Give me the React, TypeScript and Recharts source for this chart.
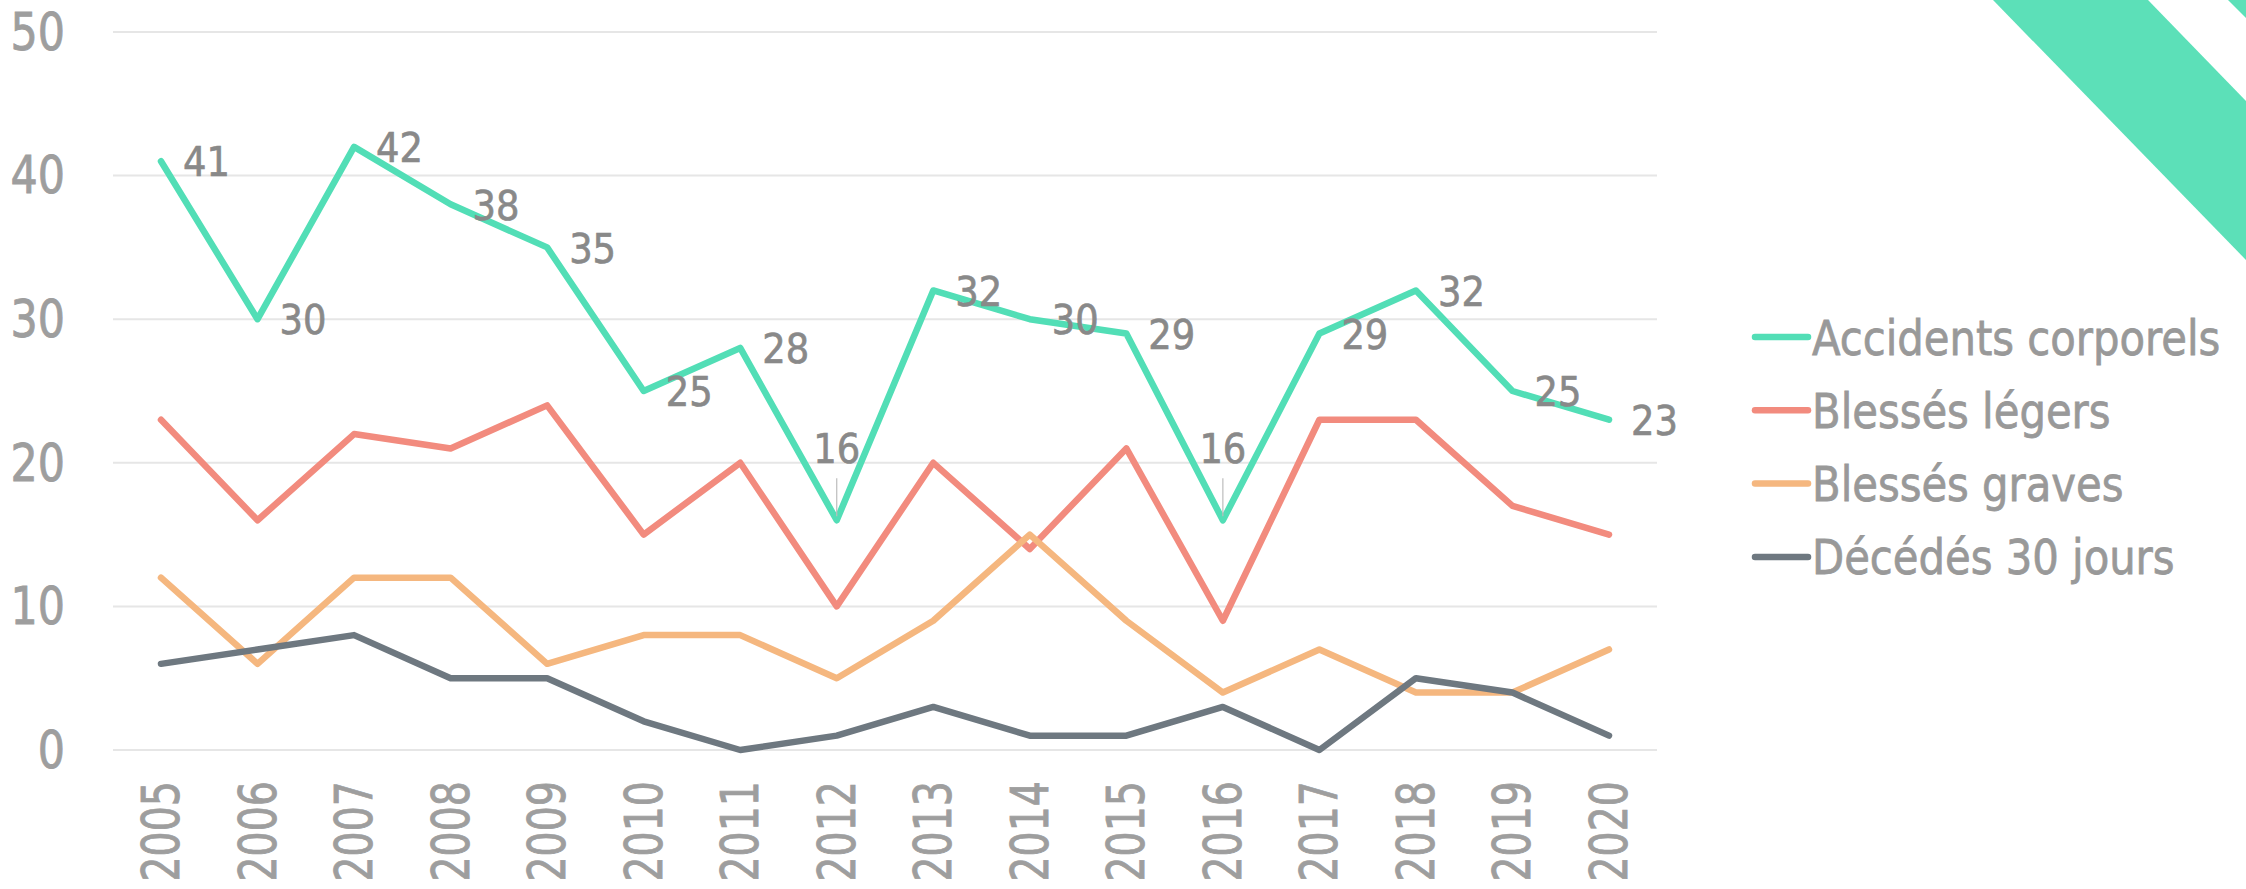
import React from 'react';
import { LineChart, Line, XAxis, YAxis, CartesianGrid, Legend, LabelList } from 'recharts';

const years = ['2005', '2006', '2007', '2008', '2009', '2010', '2011', '2012', '2013', '2014', '2015', '2016', '2017', '2018', '2019', '2020'];
const accidentsCorporels = [41, 30, 42, 38, 35, 25, 28, 16, 32, 30, 29, 16, 29, 32, 25, 23];
const blessesLegers = [23, 16, 22, 21, 24, 15, 20, 10, 20, 14, 21, 9, 23, 23, 17, 15];
const blessesGraves = [12, 6, 12, 12, 6, 8, 8, 5, 9, 15, 9, 4, 7, 4, 4, 7];
const decedes30Jours = [6, 7, 8, 5, 5, 2, 0, 1, 3, 1, 1, 3, 0, 5, 4, 1];
const yTicks = [0, 10, 20, 30, 40, 50];

const seriesNames = ['Accidents corporels', 'Blessés légers', 'Blessés graves', 'Décédés 30 jours'];

const data = years.map((year, i) => ({
  year,
  accidents: accidentsCorporels[i],
  legers: blessesLegers[i],
  graves: blessesGraves[i],
  decedes: decedes30Jours[i],
}));

const FONT = "'DejaVu Sans', Verdana, sans-serif";
const CALLOUT_INDEXES = [7, 11];
const TICK_COLOR = '#9E9E9E';
const LABEL_COLOR = '#898989';
const LINE_W = 6.5;

const XTick = (props: any) => {
  const { x, y, payload } = props;
  return (
    <g transform={`translate(${x},${y}) rotate(-90) scale(0.76,1)`}>
      <text x={0} y={0} textAnchor="end" dominantBaseline="central" fontFamily={FONT} fontSize={52}
        fill={TICK_COLOR} stroke={TICK_COLOR} strokeWidth={0.9}>
        {payload.value}
      </text>
    </g>
  );
};

const YTick = (props: any) => {
  const { x, y, payload } = props;
  return (
    <g transform={`translate(${x},${y}) scale(0.84,1)`}>
      <text x={0} y={0} textAnchor="end" dominantBaseline="central" fontFamily={FONT} fontSize={51}
        fill={TICK_COLOR} stroke={TICK_COLOR} strokeWidth={0.9}>
        {payload.value}
      </text>
    </g>
  );
};

const LabelText = ({ x, y, anchor, value }: any) => (
  <g transform={`translate(${x},${y}) scale(0.9,1)`}>
    <text x={0} y={0} textAnchor={anchor} dominantBaseline="central" fontFamily={FONT} fontSize={41}
      fill={LABEL_COLOR} stroke={LABEL_COLOR} strokeWidth={0.7}>
      {value}
    </text>
  </g>
);

const AccLabel = (props: any) => {
  const { x, y, value, index } = props;
  if (CALLOUT_INDEXES.includes(index)) {
    return (
      <g>
        <line x1={x} y1={y - 42} x2={x} y2={y - 4} stroke="#BDBDBD" strokeWidth={1.2} />
        <LabelText x={x} y={y - 71} anchor="middle" value={value} />
      </g>
    );
  }
  return <LabelText x={x + 22} y={y + 1} anchor="start" value={value} />;
};

const LegendContent = (props: any) => {
  const payload = [...(props.payload || [])].sort(
    (a: any, b: any) => seriesNames.indexOf(a.value) - seriesNames.indexOf(b.value)
  );
  return (
    <svg width={500} height={290} style={{ display: 'block' }}>
      {payload.map((entry: any, i: number) => {
        const cy = 37 + i * 73.3;
        return (
          <g key={i}>
            <line x1={17} y1={cy} x2={70} y2={cy} stroke={entry.color} strokeWidth={6.5} strokeLinecap="round" />
            <g transform={`translate(74,${cy + 1}) scale(0.87,1)`}>
              <text x={0} y={0} dominantBaseline="central" fontFamily={FONT} fontSize={48}
                fill="#999999" stroke="#999999" strokeWidth={0.8}>
                {entry.value}
              </text>
            </g>
          </g>
        );
      })}
    </svg>
  );
};

export default function App() {
  return (
    <div style={{ position: 'absolute', left: 0, top: 0, width: 2246, height: 889, background: '#FFFFFF', overflow: 'hidden' }}>
      <svg width={2246} height={889} style={{ position: 'absolute', left: 0, top: 0 }}>
        <polygon points="1993,0 2148,0 2246,101 2246,260" fill="#5CE0B8" />
        <polygon points="2228,0 2246,0 2246,18" fill="#5CE0B8" />
      </svg>
      <div style={{ position: 'absolute', left: 0, top: 0 }}>
        <LineChart width={2246} height={889} data={data} margin={{ top: 32, right: 589, bottom: 0, left: 0 }}>
          <CartesianGrid vertical={false} stroke="#E6E6E6" strokeWidth={2} />
          <XAxis
            dataKey="year"
            interval={0}
            axisLine={false}
            tickLine={false}
            tickSize={0}
            tickMargin={31}
            height={139}
            padding={{ left: 48, right: 48 }}
            tick={<XTick />}
          />
          <YAxis
            domain={[0, 50]}
            ticks={yTicks}
            width={113}
            axisLine={false}
            tickLine={false}
            tickSize={6}
            tickMargin={42}
            tick={<YTick />}
          />
          <Legend
            layout="vertical"
            align="center"
            verticalAlign="middle"
            wrapperStyle={{ left: 1738, top: 300, width: 500, height: 290 }}
            content={<LegendContent />}
          />
          <Line type="linear" dataKey="accidents" name={seriesNames[0]} stroke="#52DEB6" strokeWidth={LINE_W} dot={false} strokeLinecap="round" strokeLinejoin="round" isAnimationActive={false}>
            <LabelList dataKey="accidents" content={<AccLabel />} />
          </Line>
          <Line type="linear" dataKey="legers" name={seriesNames[1]} stroke="#F28B7E" strokeWidth={LINE_W} dot={false} strokeLinecap="round" strokeLinejoin="round" isAnimationActive={false} />
          <Line type="linear" dataKey="graves" name={seriesNames[2]} stroke="#F5B77F" strokeWidth={LINE_W} dot={false} strokeLinecap="round" strokeLinejoin="round" isAnimationActive={false} />
          <Line type="linear" dataKey="decedes" name={seriesNames[3]} stroke="#6E7880" strokeWidth={LINE_W} dot={false} strokeLinecap="round" strokeLinejoin="round" isAnimationActive={false} />
        </LineChart>
      </div>
    </div>
  );
}
